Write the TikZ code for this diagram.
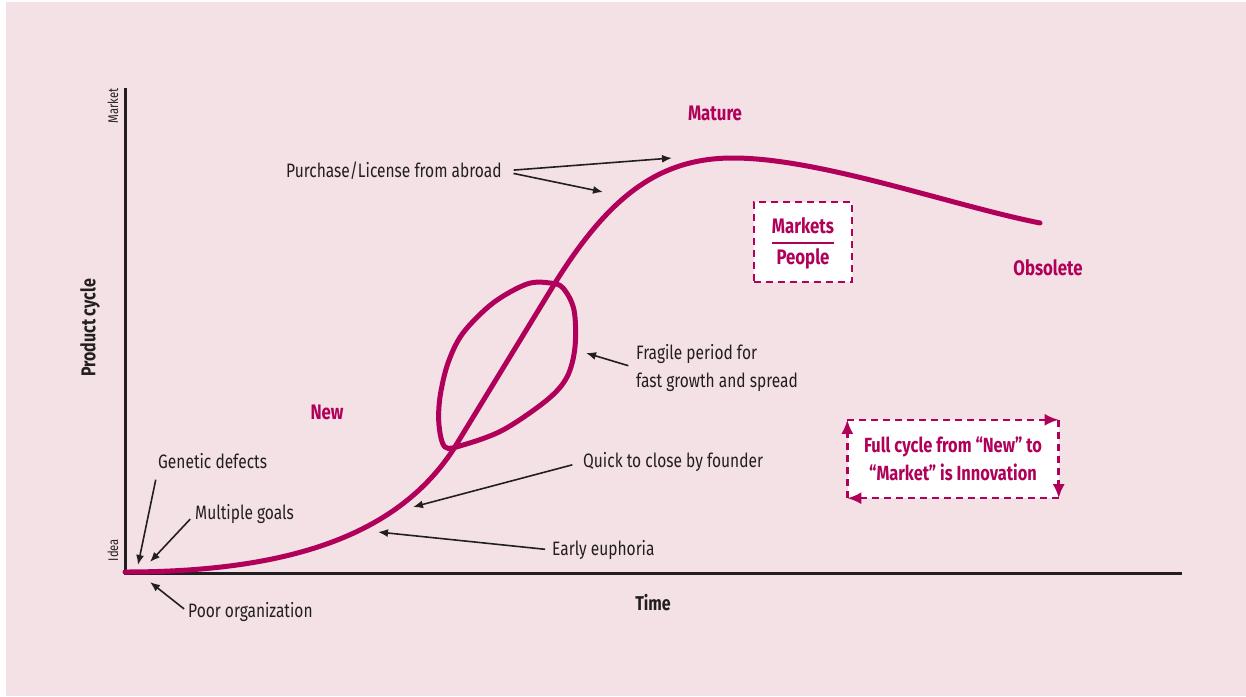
\documentclass[tikz,border=0pt]{standalone}
\usepackage{fontspec}
\setmainfont{Fira Sans}[FakeStretch=0.8]
\usepackage{xcolor}
\usetikzlibrary{arrows.meta, positioning}
\definecolor{cycmag}{RGB}{176,0,90}
\definecolor{cycpink}{RGB}{244,225,229}
\definecolor{cycdark}{RGB}{35,31,32}
\tikzset{
  >=latex,
  % Testi
  note/.style={font=\fontsize{19.4}{28}\selectfont, text=cycdark, inner sep=0, align=left},
  stage/.style={font=\fontsize{21}{24}\selectfont\bfseries, text=cycmag, inner sep=0},
  axlabel/.style={font=\fontsize{14}{16}\selectfont, text=cycdark, inner sep=0, rotate=90},
  axtitle/.style={font=\fontsize{20}{22}\selectfont\bfseries, text=cycdark, inner sep=0},
  % Linee
  axis/.style={line width=3pt, cycdark},
  cycle curve/.style={line width=5pt, cycmag, line cap=round},
  annot/.style={-{Latex[length=10pt,width=8pt]}, line width=1.6pt, cycdark},
  dashbox/.style={fill=white, draw=cycmag, line width=2.5pt, dash pattern=on 7pt off 5pt},
  loop arrow/.style={-{Latex[length=14pt,width=12pt]}, line width=2.5pt, cycmag, dash pattern=on 7pt off 5pt}
}
\begin{document}
\begin{tikzpicture}[x=1pt,y=-1pt]
  \useasboundingbox (0,0) rectangle (1246,696);
  \fill[white] (0,0) rectangle (1246,696);
  \fill[cycpink] (6,2) rectangle (1246,696);
  % Assi
  \coordinate (origin) at (125,573);
  \draw[axis] (125,88) -- (origin) -- (1182,573);
  \node[axlabel] (market) at (113,106) {Market};
  \node[axlabel] (idea) at (113,550) {Idea};
  \node[axtitle, rotate=90] (ylab) at (90,328) {Product cycle};
  \node[axtitle] (time) at (653,603) {Time};
  % Curva del ciclo
  \draw[cycle curve] (125,572) .. controls (300,572) and (400,530) .. (453,450)
    -- (555,283) .. controls (610,195) and (660,158) .. (733,158)
    .. controls (820,158) and (950,205) .. (1040,223);
  % Periodo fragile
  \draw[cycle curve] plot[smooth cycle, tension=0.55] coordinates {
    (445,447) (463,445) (503,430) (547,400) (567,377) (575,347) (574,310)
    (563,288) (550,283) (527,284) (493,303) (463,333) (448,363) (440,397) (439,425)};
  % Fasi
  \node[stage] (mature) at (715,113) {Mature};
  \node[stage] (obsolete) at (1048,268) {Obsolete};
  \node[stage] (new) at (327,412) {New};
  % Punti sulla curva
  \coordinate (tipA) at (672,158);
  \coordinate (tipB) at (603,192);
  \coordinate (tipQuick) at (413,507);
  \coordinate (tipEarly) at (378,532);
  \coordinate (tipFragile) at (586,353);
  \coordinate (tipGene) at (138,565);
  \coordinate (tipMulti) at (150,562);
  \coordinate (tipPoor) at (150,582);
  % Note
  \node[note, anchor=west] (purchase) at (286,171) {Purchase/License from abroad};
  \node[note, anchor=west] (fragile) at (636,368) {Fragile period for\\fast growth and spread};
  \node[note, anchor=west] (quick) at (583,462) {Quick to close by founder};
  \node[note, anchor=west] (early) at (552,550) {Early euphoria};
  \node[note, anchor=west] (gene) at (158,461) {Genetic defects};
  \node[note, anchor=west] (multi) at (195,514) {Multiple goals};
  \node[note, anchor=west] (poor) at (188,612) {Poor organization};
  \draw[annot, shorten <=12pt] (purchase.east) -- (tipA);
  \draw[annot, shorten <=12pt] (purchase.east) -- (tipB);
  \draw[annot, shorten <=8pt] (fragile.west) -- (tipFragile);
  \draw[annot, shorten <=11pt] (quick.west) -- (tipQuick);
  \draw[annot, shorten <=7pt] (early.west) -- (tipEarly);
  \draw[annot, shorten <=11pt] (gene.south west) -- (tipGene);
  \draw[annot, shorten <=7pt] (multi.west) -- (tipMulti);
  \draw[annot, shorten <=5pt] (poor.west) -- (tipPoor);
  % Markets / People
  \node[dashbox, minimum width=98pt, minimum height=80pt] (mpbox) at (803,242) {};
  \node[stage] (markets) at (803,226) {Markets};
  \node[stage] (people) at (803,259) {People};
  \draw[cycmag, line width=2pt] (772,243) -- (834,243);
  % Ciclo completo
  \node[fill=white, minimum width=211pt, minimum height=78pt] (fullbox) at (953,459) {};
  \node[stage, align=center, font=\fontsize{20.5}{28}\selectfont\bfseries] (fulltext) at (953,459)
    {Full cycle from “New” to\\“Market” is Innovation};
  \draw[loop arrow] (fullbox.south west) -- (fullbox.north west);
  \draw[loop arrow] (fullbox.north west) -- (fullbox.north east);
  \draw[loop arrow] (fullbox.north east) -- (fullbox.south east);
  \draw[loop arrow] (fullbox.south east) -- (fullbox.south west);
\end{tikzpicture}
\end{document}
